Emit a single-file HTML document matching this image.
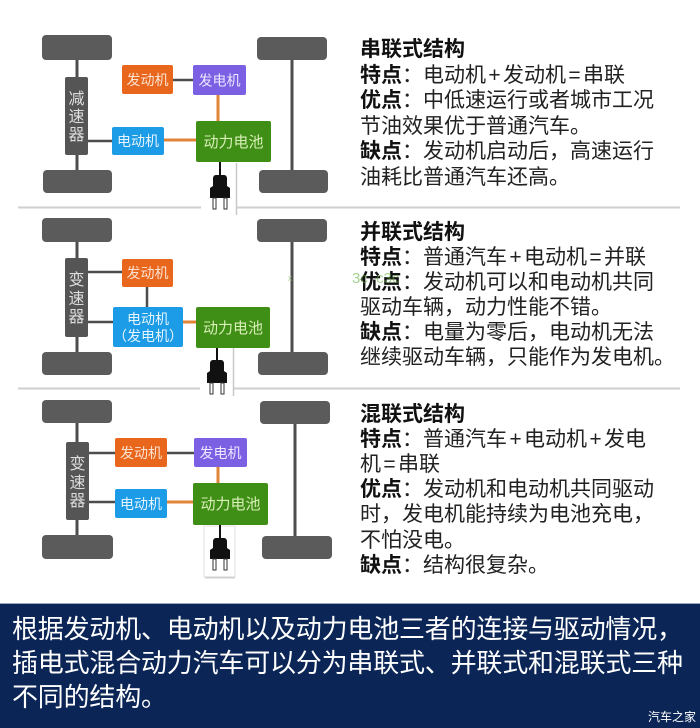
<!DOCTYPE html>
<html><head><meta charset="utf-8">
<style>
html,body{margin:0;padding:0;}
body{width:700px;height:728px;position:relative;background:#fff;overflow:hidden;font-family:"Liberation Sans","Noto Sans CJK SC",sans-serif;}
svg{position:absolute;left:0;top:0;}
.txt{position:absolute;left:360px;font-size:21px;color:#222;white-space:nowrap;}
.txt b{font-weight:700;color:#111;}
.op{display:inline-block;width:17px;text-align:center;}
.banner{position:absolute;left:0;top:603px;width:700px;height:125px;background:#0b2656;border-top:1px solid #9aa6bb;box-sizing:border-box;}
.btxt{position:absolute;left:12px;top:612px;font-size:26px;line-height:34px;color:#fff;white-space:nowrap;letter-spacing:-0.2px;}
.wm{position:absolute;left:648px;top:708px;font-size:12px;color:#fff;}
.wmg{position:absolute;font-size:15px;color:#5fae3a;opacity:0.55;}
</style></head><body>
<svg width="700" height="603" viewBox="0 0 700 603" xmlns="http://www.w3.org/2000/svg" font-family="Liberation Sans, Noto Sans CJK SC, sans-serif">
<!-- separators -->
<line x1="18" y1="207.5" x2="680" y2="207.5" stroke="#cfcfcf" stroke-width="2"/>
<line x1="18" y1="388.5" x2="680" y2="388.5" stroke="#cfcfcf" stroke-width="2"/>

<!-- ===== PANEL 1 ===== -->
<g>
<line x1="77" y1="58" x2="77" y2="172" stroke="#4d4d4d" stroke-width="3"/>
<line x1="292" y1="58" x2="292" y2="172" stroke="#4d4d4d" stroke-width="3"/>
<rect x="42" y="35" width="70" height="25" rx="4" fill="#5b5b5b"/>
<rect x="43" y="170" width="69" height="23" rx="4" fill="#5b5b5b"/>
<rect x="257" y="37" width="70" height="23" rx="4" fill="#5b5b5b"/>
<rect x="259" y="170" width="69" height="23" rx="4" fill="#5b5b5b"/>
<line x1="88" y1="141" x2="112" y2="141" stroke="#4d4d4d" stroke-width="2.5"/>
<line x1="173" y1="80" x2="193" y2="80" stroke="#4d4d4d" stroke-width="2.5"/>
<line x1="218" y1="95" x2="218" y2="121" stroke="#e0843a" stroke-width="3"/>
<line x1="164" y1="140" x2="196" y2="140" stroke="#e0843a" stroke-width="3"/>
<rect x="65" y="77" width="23" height="78" rx="2" fill="#555"/>
<text x="76.5" y="104" font-size="16" fill="#ddd" text-anchor="middle">减</text>
<text x="76.5" y="122" font-size="16" fill="#ddd" text-anchor="middle">速</text>
<text x="76.5" y="140" font-size="16" fill="#ddd" text-anchor="middle">器</text>
<rect x="122" y="65" width="51" height="29" rx="2" fill="#e9661d"/>
<text x="147.5" y="85" font-size="14" fill="#fbe3d2" text-anchor="middle">发动机</text>
<rect x="193" y="65" width="53" height="30" rx="2" fill="#7b60e4"/>
<text x="219.5" y="85.5" font-size="14" fill="#eee8ff" text-anchor="middle">发电机</text>
<rect x="112" y="127" width="52" height="28" rx="2" fill="#1c9be6"/>
<text x="138" y="146" font-size="14" fill="#e6f4ff" text-anchor="middle">电动机</text>
<rect x="196" y="121" width="75" height="41" rx="2" fill="#3f8e15"/>
<text x="233.5" y="147" font-size="15" fill="#d8efb8" text-anchor="middle">动力电池</text>
<!-- plug -->
<rect x="201" y="163" width="35" height="50" fill="#fff"/>
<line x1="236.5" y1="163" x2="236.5" y2="215" stroke="#c8c8c8" stroke-width="1.5"/>
<line x1="220" y1="162" x2="220" y2="176" stroke="#111" stroke-width="2"/>
<path d="M213,179 Q213,175 216,175 L224,175 Q227,175 227,179 L227,186 L230,188 L230,198 L210,198 L210,188 L213,186 Z" fill="#111"/>
<rect x="213" y="198" width="3" height="11" fill="#fff" stroke="#333" stroke-width="1"/>
<rect x="224" y="198" width="3" height="11" fill="#fff" stroke="#333" stroke-width="1"/>
</g>

<!-- ===== PANEL 2 ===== -->
<g>
<line x1="77" y1="240" x2="77" y2="354" stroke="#4d4d4d" stroke-width="3"/>
<line x1="292" y1="240" x2="292" y2="354" stroke="#4d4d4d" stroke-width="3"/>
<rect x="42" y="218" width="70" height="24" rx="4" fill="#5b5b5b"/>
<rect x="42" y="352" width="70" height="23" rx="4" fill="#5b5b5b"/>
<rect x="257" y="219" width="70" height="23" rx="4" fill="#5b5b5b"/>
<rect x="258" y="352" width="70" height="23" rx="4" fill="#5b5b5b"/>
<line x1="88" y1="272" x2="122" y2="272" stroke="#4d4d4d" stroke-width="2.5"/>
<line x1="88" y1="322" x2="113" y2="322" stroke="#4d4d4d" stroke-width="2.5"/>
<line x1="147" y1="287" x2="147" y2="307" stroke="#4d4d4d" stroke-width="2.5"/>
<line x1="183" y1="322" x2="196" y2="322" stroke="#e0843a" stroke-width="3"/>
<rect x="65" y="258" width="23" height="79" rx="2" fill="#555"/>
<text x="76.5" y="285" font-size="16" fill="#ddd" text-anchor="middle">变</text>
<text x="76.5" y="304" font-size="16" fill="#ddd" text-anchor="middle">速</text>
<text x="76.5" y="322" font-size="16" fill="#ddd" text-anchor="middle">器</text>
<rect x="122" y="259" width="51" height="28" rx="2" fill="#e9661d"/>
<text x="147.5" y="278" font-size="14" fill="#fbe3d2" text-anchor="middle">发动机</text>
<rect x="113" y="307" width="70" height="40" rx="2" fill="#1c9be6"/>
<text x="148" y="324" font-size="14" fill="#e6f4ff" text-anchor="middle">电动机</text>
<text x="148" y="341" font-size="14" fill="#e6f4ff" text-anchor="middle">（发电机）</text>
<rect x="196" y="307" width="74" height="41" rx="2" fill="#3f8e15"/>
<text x="233" y="333" font-size="15" fill="#d8efb8" text-anchor="middle">动力电池</text>
<rect x="200" y="349" width="33" height="46" fill="#fff"/>
<line x1="233.5" y1="348" x2="233.5" y2="396" stroke="#c8c8c8" stroke-width="1.5"/>
<line x1="217" y1="348" x2="217" y2="361" stroke="#111" stroke-width="2"/>
<path d="M210,364 Q210,360 213,360 L221,360 Q224,360 224,364 L224,371 L227,373 L227,383 L207,383 L207,373 L210,371 Z" fill="#111"/>
<rect x="210" y="383" width="3" height="11" fill="#fff" stroke="#333" stroke-width="1"/>
<rect x="221" y="383" width="3" height="11" fill="#fff" stroke="#333" stroke-width="1"/>
<text x="288" y="280" font-size="13" fill="#7bb55a" opacity="0.6">ₓ</text>
</g>

<!-- ===== PANEL 3 ===== -->
<g>
<line x1="77" y1="421" x2="77" y2="537" stroke="#4d4d4d" stroke-width="3"/>
<line x1="295" y1="422" x2="295" y2="538" stroke="#4d4d4d" stroke-width="3"/>
<rect x="42" y="400" width="70" height="23" rx="4" fill="#5b5b5b"/>
<rect x="42" y="535" width="71" height="24" rx="4" fill="#5b5b5b"/>
<rect x="260" y="401" width="70" height="23" rx="4" fill="#5b5b5b"/>
<rect x="262" y="536" width="70" height="23" rx="4" fill="#5b5b5b"/>
<line x1="89" y1="453" x2="115" y2="453" stroke="#4d4d4d" stroke-width="2.5"/>
<line x1="167" y1="453" x2="194" y2="453" stroke="#4d4d4d" stroke-width="2.5"/>
<line x1="89" y1="502" x2="115" y2="502" stroke="#4d4d4d" stroke-width="2.5"/>
<line x1="218" y1="467" x2="218" y2="483" stroke="#e0843a" stroke-width="3"/>
<line x1="167" y1="502" x2="193" y2="502" stroke="#e0843a" stroke-width="3"/>
<rect x="66" y="442" width="23" height="78" rx="2" fill="#555"/>
<text x="77.5" y="469" font-size="16" fill="#ddd" text-anchor="middle">变</text>
<text x="77.5" y="488" font-size="16" fill="#ddd" text-anchor="middle">速</text>
<text x="77.5" y="506" font-size="16" fill="#ddd" text-anchor="middle">器</text>
<rect x="115" y="438" width="52" height="29" rx="2" fill="#e9661d"/>
<text x="141" y="458" font-size="14" fill="#fbe3d2" text-anchor="middle">发动机</text>
<rect x="194" y="438" width="53" height="29" rx="2" fill="#7b60e4"/>
<text x="220.5" y="458" font-size="14" fill="#eee8ff" text-anchor="middle">发电机</text>
<rect x="115" y="489" width="52" height="29" rx="2" fill="#1c9be6"/>
<text x="141" y="509" font-size="14" fill="#e6f4ff" text-anchor="middle">电动机</text>
<rect x="193" y="483" width="75" height="42" rx="2" fill="#3f8e15"/>
<text x="230.5" y="509" font-size="15" fill="#d8efb8" text-anchor="middle">动力电池</text>
<rect x="204" y="526" width="31" height="51" fill="#fff" stroke="#e2e2e2" stroke-width="1"/>
<line x1="205" y1="577.5" x2="235" y2="577.5" stroke="#d0d0d0" stroke-width="2"/>
<line x1="220" y1="525" x2="220" y2="539" stroke="#111" stroke-width="2"/>
<path d="M213,542 Q213,538 216,538 L224,538 Q227,538 227,542 L227,548 L230,550 L230,559 L210,559 L210,550 L213,548 Z" fill="#111"/>
<rect x="213" y="559" width="3" height="11" fill="#fff" stroke="#333" stroke-width="1"/>
<rect x="224" y="559" width="3" height="11" fill="#fff" stroke="#333" stroke-width="1"/>
</g>
</svg>

<div class="txt" style="top:37px;line-height:25.6px;">
<b>串联式结构</b><br>
<b>特点</b>：电动机<span class="op">+</span>发动机<span class="op">=</span>串联<br>
<b>优点</b>：中低速运行或者城市工况<br>
节油效果优于普通汽车。<br>
<b>缺点</b>：发动机启动后，高速运行<br>
油耗比普通汽车还高。
</div>

<div class="txt" style="top:219.5px;line-height:25px;">
<b>并联式结构</b><br>
<b>特点</b>：普通汽车<span class="op">+</span>电动机<span class="op">=</span>并联<br>
<b>优点</b>：发动机可以和电动机共同<br>
驱动车辆，动力性能不错。<br>
<b>缺点</b>：电量为零后，电动机无法<br>
继续驱动车辆，只能作为发电机。
</div>
<div class="wmg" style="left:352px;top:270px;">3c&nbsp;&nbsp;c3c</div>

<div class="txt" style="top:401.5px;line-height:25.2px;">
<b>混联式结构</b><br>
<b>特点</b>：普通汽车<span class="op">+</span>电动机<span class="op">+</span>发电<br>
机<span class="op">=</span>串联<br>
<b>优点</b>：发动机和电动机共同驱动<br>
时，发电机能持续为电池充电，<br>
不怕没电。<br>
<b>缺点</b>：结构很复杂。
</div>

<div class="banner"></div>
<div class="btxt">根据发动机、电动机以及动力电池三者的连接与驱动情况，<br>插电式混合动力汽车可以分为串联式、并联式和混联式三种<br>不同的结构。</div>
<div class="wm">汽车之家</div>
</body></html>
